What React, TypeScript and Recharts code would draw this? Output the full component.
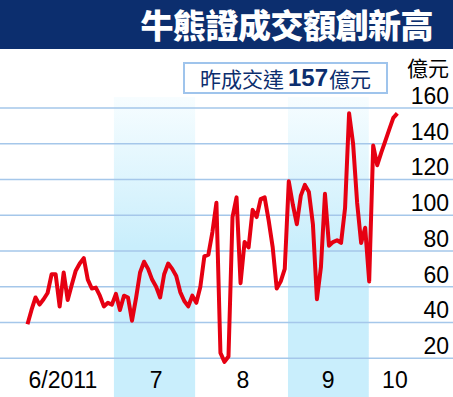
import { LineChart, Line, XAxis, YAxis, ReferenceArea, ReferenceLine } from 'recharts';

// daily turnover (HK$ 100m), trading days from June to early October 2011
const turnover = [
  39, 47, 54, 50, 53, 56.5, 67, 67, 49, 68,
  52.6, 61, 69, 73, 76, 64, 59, 59.5, 55, 49,
  51, 50, 56, 47, 55, 54, 41, 53.6, 68, 74,
  70, 64, 60, 54, 67, 73, 70, 66, 57, 52,
  49, 55, 51, 60, 77, 78, 90.6, 107, 23, 18,
  21, 99, 110, 62, 85, 82, 103, 99, 109, 110,
  97, 82, 59, 63, 70, 119, 106, 95, 111, 117,
  113, 95, 53, 71, 112, 83, 85, 86, 84.5, 104,
  157, 140, 107, 84.5, 93, 63, 139, 128, 135, 141.5,
  148, 154.5, 157,
];

const monthTickDays = [8.8, 32, 53.6, 74.8, 91.4];
const monthLabels = ['6/2011', '7', '8', '9', '10'];
const shadedMonths = [
  [21.5, 41.7],
  [64.8, 84.9],
];
const yTicks = [20, 40, 60, 80, 100, 120, 140, 160];

const data = turnover.map((v, i) => ({ day: i, volume: v }));

const NAVY = '#0c2e6e';
const LATIN = '"Liberation Sans", Arial, sans-serif';
const CJK = '"Noto Sans CJK TC", "Noto Sans CJK SC", sans-serif';

const renderYTick = (props: any) => {
  const { y, payload } = props;
  return (
    <text x={449} y={y - 4} textAnchor="end" fontSize={23} fontFamily={LATIN} fill="#000">
      {payload.value}
    </text>
  );
};

const renderXTick = (props: any) => {
  const { x, payload } = props;
  const idx = monthTickDays.indexOf(payload.value);
  return (
    <text x={x} y={388} textAnchor="middle" fontSize={23} fontFamily={LATIN} fill="#000">
      {idx >= 0 ? monthLabels[idx] : ''}
    </text>
  );
};

export default function App() {
  return (
    <div style={{ position: 'absolute', left: 0, top: 0, width: 453, height: 397, background: '#fff', overflow: 'hidden' }}>
      <svg width={0} height={0} style={{ position: 'absolute' }}>
        <defs>
          <linearGradient id="bandFill" x1="0" y1="0" x2="0" y2="1">
            <stop offset="0%" stopColor="#f7fdff" />
            <stop offset="50%" stopColor="#c9eefc" />
            <stop offset="100%" stopColor="#c9eefc" />
          </linearGradient>
        </defs>
      </svg>

      <LineChart
        width={453}
        height={398}
        data={data}
        margin={{ top: 97, right: -1, bottom: 0, left: 0 }}
      >
        <XAxis
          dataKey="day"
          type="number"
          domain={[-6.84, 105.85]}
          ticks={monthTickDays}
          interval={0}
          height={1}
          axisLine={false}
          tickLine={false}
          tick={renderXTick}
        />
        <YAxis
          orientation="right"
          type="number"
          domain={[-1.68, 166.15]}
          ticks={yTicks}
          interval={0}
          width={1}
          axisLine={false}
          tickLine={false}
          tick={renderYTick}
        />
        {shadedMonths.map(([a, b], i) => (
          <ReferenceArea key={'band' + i} x1={a} x2={b} fill="url(#bandFill)" fillOpacity={1} stroke="none" />
        ))}
        {yTicks.map((t) => (
          <ReferenceLine key={'g' + t} y={t} stroke="#a5c7ea" strokeWidth={1.6} />
        ))}
        <Line
          type="linear"
          dataKey="volume"
          stroke="#e60012"
          strokeWidth={4}
          strokeLinejoin="round"
          dot={false}
          isAnimationActive={false}
        />
      </LineChart>

      <div style={{ position: 'absolute', left: 0, top: 0, width: 453, height: 49, background: NAVY }}>
        <div
          style={{
            position: 'absolute',
            right: 20,
            top: 0,
            height: 49,
            lineHeight: '49px',
            color: '#fff',
            fontFamily: CJK,
            fontWeight: 900,
            fontSize: 33,
            letterSpacing: -0.5,
            whiteSpace: 'nowrap',
          }}
        >
          牛熊證成交額創新高
        </div>
      </div>

      <div
        style={{
          position: 'absolute',
          left: 183,
          top: 62,
          width: 205,
          height: 32,
          boxSizing: 'border-box',
          border: '2px solid #9fc4ec',
          background: '#fff',
          display: 'flex',
          alignItems: 'center',
          justifyContent: 'center',
          color: NAVY,
          fontFamily: CJK,
          fontSize: 21,
          whiteSpace: 'nowrap',
        }}
      >
        <span>昨成交達</span>
        <span style={{ fontFamily: LATIN, fontWeight: 700, fontSize: 24, margin: '0 1px 0 4px' }}>157</span>
        <span>億元</span>
      </div>

      <div
        style={{
          position: 'absolute',
          right: 4,
          top: 57,
          height: 21,
          fontFamily: CJK,
          fontSize: 21,
          lineHeight: '21px',
          color: '#000',
          whiteSpace: 'nowrap',
        }}
      >
        億元
      </div>
    </div>
  );
}
